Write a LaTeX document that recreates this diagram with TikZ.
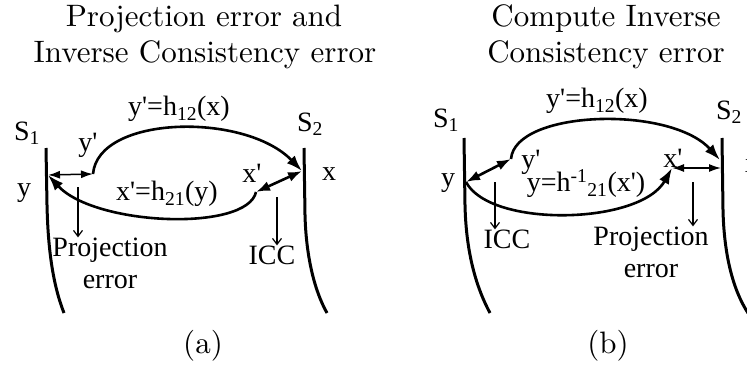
\documentclass[tikz,border=0pt]{standalone}
\usepackage{fontspec}
\usetikzlibrary{arrows.meta}
\newfontfamily\timesfont{Liberation Serif}
\newfontfamily\capfont{lmroman10-regular.otf}
\newcommand{\prm}{\textquotesingle}

\begin{document}
\begin{tikzpicture}[x=1pt, y=-1pt,
  caption/.style={font=\capfont\fontsize{31}{36}\selectfont, inner sep=0pt, anchor=base},
  lbl/.style={font=\timesfont\fontsize{28}{32}\selectfont, inner sep=0pt, align=center},
  surface/.style={line width=3pt},
  mapping/.style={line width=2.6pt, -{Latex[length=16pt,width=11pt]}},
  gapthin/.style={line width=1.5pt, {Latex[length=12pt,width=8pt]}-{Latex[length=12pt,width=8pt]}},
  gapheavy/.style={line width=2.6pt, {Latex[length=14pt,width=10pt]}-{Latex[length=14pt,width=10pt]}},
  drop/.style={line width=1.2pt, -{Straight Barb[length=6pt,width=9pt]}},
]
\useasboundingbox (0,0) rectangle (747,369);

\node[caption] (capa1) at (204,27) {Projection error and};
\node[caption] (capa2) at (205,63) {Inverse Consistency error};
\node[caption] (capb1) at (606,27) {Compute Inverse};
\node[caption] (capb2) at (606,63) {Consistency error};
\node[caption] (suba) at (203,353) {(a)};
\node[caption] (subb) at (608,353) {(b)};

\coordinate (ay) at (48,175);
\coordinate (ayp) at (93,174);
\coordinate (axp) at (256,192);
\coordinate (ax) at (302,171);
\coordinate (apd) at (78,187);
\coordinate (aid) at (277,197);
\draw[surface] (46,148) -- (47,205) .. controls (48,250) and (53,285) .. (64,313);
\draw[surface] (304,148) -- (305,215) .. controls (306,255) and (314,290) .. (327,313);
\node[lbl] (as1) at (27,133) {S\textsubscript{1}};
\node[lbl] (as2) at (310,124) {S\textsubscript{2}};
\node[lbl] (aylbl) at (24,193) {y};
\node[lbl] (axlbl) at (329,174) {x};
\node[lbl] (ayplbl) at (88,145) {y\prm};
\node[lbl] (axplbl) at (252,173) {x\prm};
\node[lbl] (afwd) at (179,109) {y\prm=h\textsubscript{12}(x)};
\node[lbl] (abwd) at (167,194) {x\prm=h\textsubscript{21}(y)};
\node[lbl] (aproj) at (110,263) {Projection\\error};
\node[lbl] (aicc) at (272,255) {ICC};
\draw[gapthin] (ay) -- (ayp);
\draw[mapping] (ayp) .. controls (98,115) and (245,112) .. (ax);
\draw[mapping] (axp) .. controls (247,232) and (95,226) .. (ay);
\draw[gapheavy] (axp) -- (ax);
\draw[drop] (apd) -- (apd |- aproj.north);
\draw[drop] (aid) -- (aid |- aicc.north);

\coordinate (by) at (466,182);
\coordinate (byp) at (511,159);
\coordinate (bxp) at (672,168);
\coordinate (bx) at (721,168);
\coordinate (bs2) at (720,160);
\coordinate (bid) at (495,182);
\coordinate (bpd) at (693,182);
\draw[surface] (464,138) -- (465,205) .. controls (466,250) and (475,285) .. (490,313);
\draw[surface] (722,138) -- (723,210) .. controls (724,255) and (733,290) .. (748,313);
\node[lbl] (bs1) at (446,120) {S\textsubscript{1}};
\node[lbl] (bs2lbl) at (729,112) {S\textsubscript{2}};
\node[lbl] (bylbl) at (448,183) {y};
\node[lbl] (bxlbl) at (752,166) {x};
\node[lbl] (byplbl) at (531,162) {y\prm};
\node[lbl] (bxplbl) at (673,158) {x\prm};
\node[lbl] (bfwd) at (597,101) {y\prm=h\textsubscript{12}(x)};
\node[lbl] (binv) at (586,184) {y=h\textsuperscript{-1}\textsubscript{21}(x\prm)};
\node[lbl] (bicc) at (507,239) {ICC};
\node[lbl] (bproj) at (651,252) {Projection\\error};
\draw[gapheavy] (by) -- (byp);
\draw[mapping] (byp) .. controls (515,110) and (670,105) .. (bs2);
\draw[mapping] (by) .. controls (490,228) and (640,225) .. (bxp);
\draw[gapthin] (bxp) -- (bx);
\draw[drop] (bid) -- (bid |- bicc.north);
\draw[drop] (bpd) -- (bpd |- bproj.north);
\end{tikzpicture}
\end{document}
